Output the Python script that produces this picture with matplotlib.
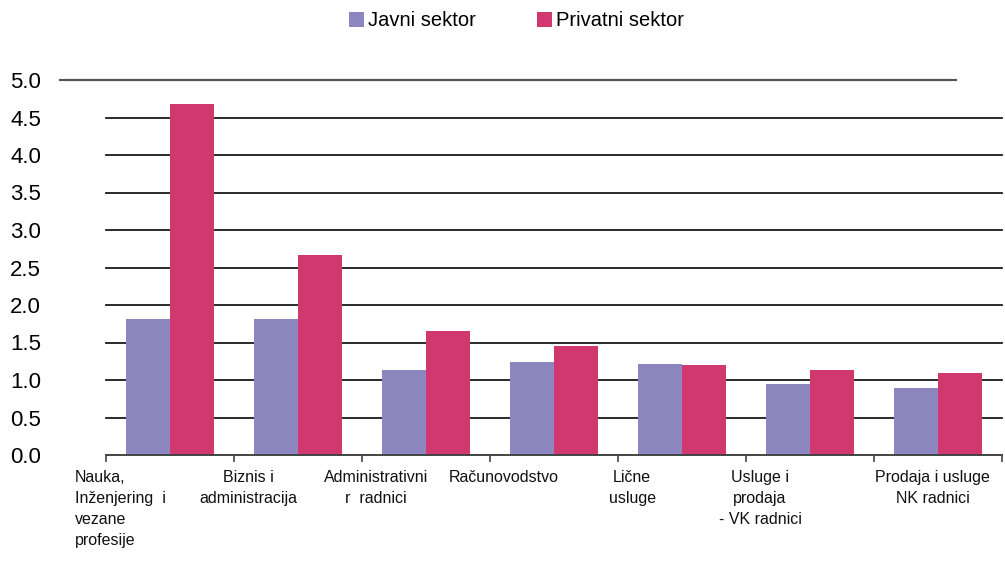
import matplotlib
matplotlib.use("Agg")
import matplotlib.pyplot as plt
from matplotlib import font_manager
from matplotlib.patches import Patch
import numpy as np

# Data
categories = [
    "Nauka,\nInženjering  i\nvezane\nprofesije",
    "Biznis i\nadministracija",
    "Administrativni\nr  radnici",
    "Računovodstvo",
    "Lične\nusluge",
    "Usluge i\nprodaja\n- VK radnici",
    "Prodaja i usluge\nNK radnici",
]
javni = [1.81, 1.81, 1.13, 1.24, 1.22, 0.95, 0.90]
privatni = [4.68, 2.67, 1.65, 1.45, 1.20, 1.13, 1.09]
series_names = ["Javni sektor", "Privatni sektor"]
yticks = [0.0, 0.5, 1.0, 1.5, 2.0, 2.5, 3.0, 3.5, 4.0, 4.5, 5.0]

col_javni = "#8E86BF"
col_priv = "#D0386F"

available = {f.name for f in font_manager.fontManager.ttflist}
base_font = "Liberation Sans" if "Liberation Sans" in available else "DejaVu Sans"
label_font = "Liberation Sans Narrow" if "Liberation Sans Narrow" in available else base_font
plt.rcParams["font.family"] = [base_font, "DejaVu Sans"]

fig = plt.figure(figsize=(10.05, 5.64), dpi=100)
ax = fig.add_axes([106 / 1005, 1 - 455 / 564, 896 / 1005, (455 - 80) / 564])

x = np.arange(len(categories)) + 0.5
w = 0.344
ax.bar(x - w / 2, javni, width=w, color=col_javni, zorder=3)
ax.bar(x + w / 2, privatni, width=w, color=col_priv, zorder=3)

ax.set_xlim(0, len(categories))
ax.set_ylim(0, 5)

# horizontal gridlines (the top one is shifted left, as in the original)
for yv in yticks[1:-1]:
    ax.axhline(yv, xmin=0, xmax=1.0, color="#1a1a1a", lw=1.3, zorder=1, clip_on=False)
ax.axhline(5.0, xmin=-0.051, xmax=0.949, color="#555555", lw=1.6, zorder=1, clip_on=False)

for side in ["left", "right", "top"]:
    ax.spines[side].set_visible(False)
ax.spines["bottom"].set_color("#444444")
ax.spines["bottom"].set_linewidth(1.4)
ax.spines["bottom"].set_zorder(4)

ax.set_yticks(yticks)
ax.set_yticklabels([f"{v:.1f}" for v in yticks], fontsize=16, ha="left")
ax.tick_params(axis="y", length=0, pad=69)

ax.set_xticks(np.arange(len(categories) + 1))
ax.set_xticklabels([])
ax.tick_params(axis="x", direction="out", length=5, width=1.2, color="#444444")

# category labels, sitting a little right of each boundary tick
label_x = [i + 0.11 for i in range(len(categories) - 1)] + [6.46]
trans = ax.get_xaxis_transform()
for i, (lx, txt) in enumerate(zip(label_x, categories)):
    ax.text(lx, -0.04, txt, transform=trans, ha="center", va="top",
            multialignment="left" if i == 0 else "center",
            fontsize=11.5, family=label_font, linespacing=1.5, color="#111111")

handles = [Patch(facecolor=col_javni), Patch(facecolor=col_priv)]
fig.legend(handles, series_names, loc="center", bbox_to_anchor=(0.514, 0.963),
           ncol=2, frameon=False, fontsize=14.5, handlelength=0.75, handleheight=0.75,
           handletextpad=0.2, columnspacing=3.0)

fig.savefig("out.png", dpi=100)
